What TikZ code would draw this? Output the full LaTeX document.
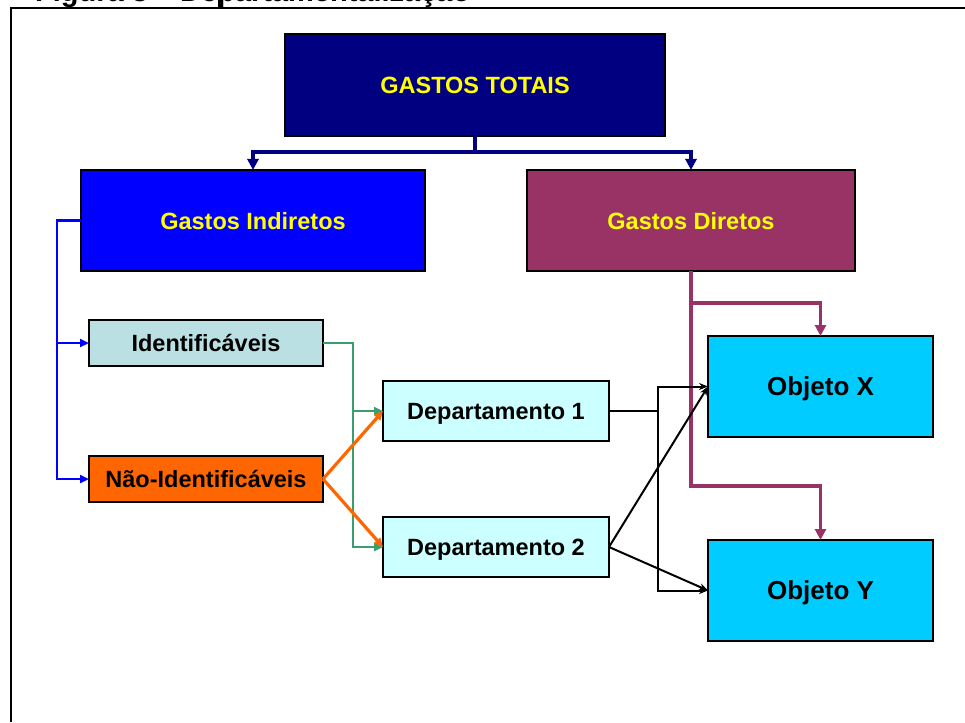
\documentclass[tikz,border=0pt]{standalone}
\usepackage{fontspec}
\setmainfont{Liberation Sans}
\usetikzlibrary{arrows.meta}
\definecolor{cnavy}{HTML}{000080}
\definecolor{cblue}{HTML}{0000FF}
\definecolor{cmaroon}{HTML}{993366}
\definecolor{cteal}{HTML}{BBE0E3}
\definecolor{corange}{HTML}{FF6600}
\definecolor{cdep}{HTML}{CCFFFF}
\definecolor{cobj}{HTML}{00CCFF}
\definecolor{cgreen}{HTML}{3A9E6E}
\definecolor{cyel}{HTML}{FFFF00}
\tikzset{
  box/.style={draw=black, line width=2pt, rectangle, inner sep=0pt, outer sep=0pt, anchor=north west,
    text height=17pt, text depth=0pt,
    font=\bfseries\fontsize{23.5}{28}\selectfont},
  objbox/.style={box, text height=18.7pt, font=\bfseries\fontsize{26}{30}\selectfont},
  ylw/.style={text=cyel},
  blk/.style={text=black},
  conn/.style={line width=2.6pt},
  thick conn/.style={line width=3.2pt},
  bigtip/.style={-{Triangle[length=11pt,width=11pt]}},
  smalltip/.style={-{Triangle[length=9pt,width=8pt]}},
  thintip/.style={-{Stealth[length=9pt,width=7pt]}},
}
\begin{document}
\begin{tikzpicture}[x=1pt,y=-1pt]
\useasboundingbox (0,0) rectangle (965,722);
% cut-off caption and frame
\node[anchor=base west, inner sep=0pt, font=\bfseries\fontsize{29}{34}\selectfont] (cap) at (35,2) {Figura 3 – Departamentalização};
\fill[white] (0,8) rectangle (965,722);
\draw[line width=2.5pt] (11,722) -- (11,8) -- (966,8);
\draw[line width=1.5pt] (219,0) -- (219,8);
% boxes
\node[box, fill=cnavy, ylw, minimum width=380pt, minimum height=102pt] (tot) at (285,34) {GASTOS TOTAIS};
\node[box, fill=cblue, ylw, minimum width=344pt, minimum height=101pt] (ind) at (81,170) {Gastos Indiretos};
\node[box, fill=cmaroon, ylw, minimum width=328pt, minimum height=101pt] (dir) at (527,170) {Gastos Diretos};
\node[box, fill=cteal, blk, minimum width=234pt, minimum height=46pt] (ident) at (89,320) {Identificáveis};
\node[box, fill=corange, blk, minimum width=234pt, minimum height=46pt] (nid) at (89,456) {Não-Identificáveis};
\node[box, fill=cdep, blk, minimum width=226pt, minimum height=60pt] (dep1) at (383,381) {Departamento 1};
\node[box, fill=cdep, blk, minimum width=226pt, minimum height=60pt] (dep2) at (383,517) {Departamento 2};
\node[objbox, fill=cobj, blk, minimum width=225pt, minimum height=101pt] (objx) at (708,336) {Objeto X};
\node[objbox, fill=cobj, blk, minimum width=225pt, minimum height=101pt] (objy) at (708,540) {Objeto Y};
% navy connectors
\coordinate (bus) at (475,152);
\draw[thick conn, cnavy] (tot.south) -- (tot.south |- bus);
\draw[thick conn, cnavy, bigtip] (tot.south |- bus) -| (ind.north);
\draw[thick conn, cnavy, bigtip] (tot.south |- bus) -| (dir.north);
% blue connectors
\draw[conn, cblue, smalltip] (ind.west) -- ++(-24,0) |- (ident.west);
\draw[conn, cblue, smalltip] (ind.west) -- ++(-24,0) |- (nid.west);
% green connectors
\draw[conn, cgreen, smalltip] (ident.east) -- ++(30,0) |- (dep1.west);
\draw[conn, cgreen, smalltip] (ident.east) -- ++(30,0) |- (dep2.west);
% orange connectors
\draw[thick conn, corange, smalltip] (nid.east) -- (dep1.west);
\draw[thick conn, corange, smalltip] (nid.east) -- (dep2.west);
% maroon connectors
\draw[thick conn, cmaroon, bigtip] (dir.south) -- ++(0,32) -| (objx.north);
\draw[thick conn, cmaroon, bigtip] (dir.south) -- ++(0,215) -| (objy.north);
% black connectors
\draw[line width=2pt] (dep1.east) -- ++(49,0) coordinate (k);
\draw[line width=2pt, thintip] (k) |- (objx.west);
\draw[line width=2pt, thintip] (k) |- (objy.west);
\draw[line width=2pt, thintip] (dep2.east) -- (objx.west);
\draw[line width=2pt, thintip] (dep2.east) -- (objy.west);
\end{tikzpicture}
\end{document}
